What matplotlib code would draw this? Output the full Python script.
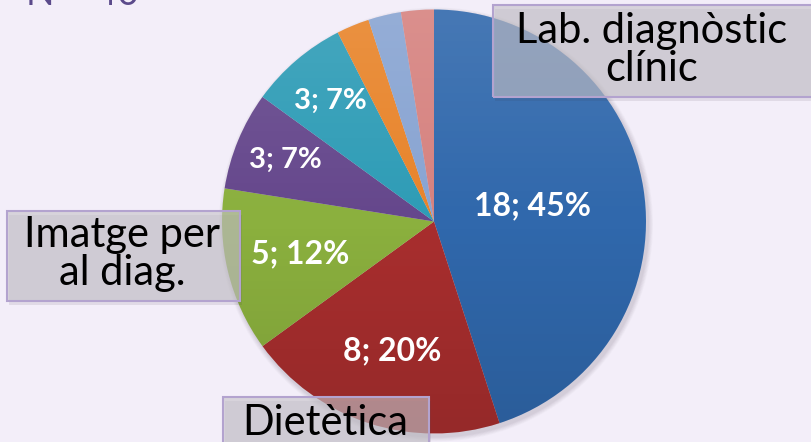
import numpy as np
import matplotlib.pyplot as plt
from matplotlib.patches import Rectangle, Circle

# ---- data ----
values = [18, 8, 5, 3, 3, 1, 1, 1]
percents = [45, 20, 12, 7, 7, None, None, None]
slice_colors = ['#3068AC', '#A82E2E', '#8BB03E', '#65478C', '#2E9CB6', '#E8842A', '#88A4D2', '#D6827F']
callouts = ["Lab. diagnòstic\nclínic", "Imatge per\nal diag.", "Dietètica"]
total_text = "N = 40"

# ---- style/layout ----
W, H = 811, 442
BG = '#F3EEF9'
center = (434, 220.5)
radius = 212
label_dist = [0.47, 0.64, 0.65, 0.76, 0.75, 0, 0, 0]

fig = plt.figure(figsize=(W / 100, H / 100), dpi=100)
fig.patch.set_facecolor(BG)
ax = fig.add_axes([0, 0, 1, 1])
ax.set_facecolor(BG)

# soft shadow under the pie
for k, a in zip(range(6), [0.05, 0.05, 0.04, 0.04, 0.03, 0.03]):
    ax.add_patch(Circle((center[0] + 2, center[1] - 3), radius + 1 + k * 0.8,
                        facecolor='#6a6070', edgecolor='none', alpha=a, zorder=1))

wedges, _ = ax.pie(values, colors=slice_colors, startangle=90, counterclock=False,
                   center=center, radius=radius, frame=True,
                   wedgeprops=dict(linewidth=0, zorder=2))
for w in wedges:
    w.set_zorder(2)

# subtle vertical gradient shading over pie
grad = np.zeros((200, 2, 4))
t = np.linspace(0, 1, 200)[:, None]
grad[..., :3] = np.where(t[..., None] < 0.5, 1.0, 0.0)
grad[..., 3] = (np.abs(t - 0.5) * 0.22)
im = ax.imshow(grad, extent=(center[0] - radius, center[0] + radius,
                             center[1] - radius, center[1] + radius),
               origin='upper', aspect='auto', zorder=3, interpolation='bilinear')
clip = Circle(center, radius, transform=ax.transData)
im.set_clip_path(clip)

# slice labels
for w, v, p, d in zip(wedges, values, percents, label_dist):
    if p is None:
        continue
    mid = np.deg2rad((w.theta1 + w.theta2) / 2)
    x = center[0] + d * radius * np.cos(mid)
    y = center[1] + d * radius * np.sin(mid)
    ax.text(x, y, f"{v}; {p}%", ha='center', va='center', color='white',
            fontsize=23 if v > 3 else 21, fontweight='bold', family='Lato', zorder=5)

# callout boxes
boxes = [(493, 345, 330, 92), (7, 141, 233, 90), (223, -5, 206, 50)]
text_pos = [(652, 392, 'center'), (122, 188, 'center'), (325, 7, 'baseline')]
for (bx, by, bw, bh), (tx, ty, va), txt in zip(boxes, text_pos, callouts):
    ax.add_patch(Rectangle((bx + 2, by - 4), bw, bh, facecolor='#3a3040', alpha=0.10,
                           edgecolor='none', zorder=6))
    ax.add_patch(Rectangle((bx, by), bw, bh, facecolor='#C6C3C9', alpha=0.62,
                           edgecolor='none', zorder=7))
    ax.add_patch(Rectangle((bx, by), bw, bh, facecolor='none', edgecolor='#B3A3CF',
                           linewidth=1.5, zorder=8))
    ax.text(tx, ty, txt, ha='center', va=va, multialignment='center', color='black',
            fontsize=30, family='Lato', linespacing=1.0, zorder=9)

# cut-off "N = 40" at top-left
ax.text(26, 437, total_text, ha='left', va='baseline', color='#5B4A8B',
        fontsize=27, family='Lato', zorder=9)

ax.set_xlim(0, W)
ax.set_ylim(0, H)
ax.set_aspect('auto')
ax.axis('off')

fig.savefig('out.png', dpi=100, facecolor=BG)
